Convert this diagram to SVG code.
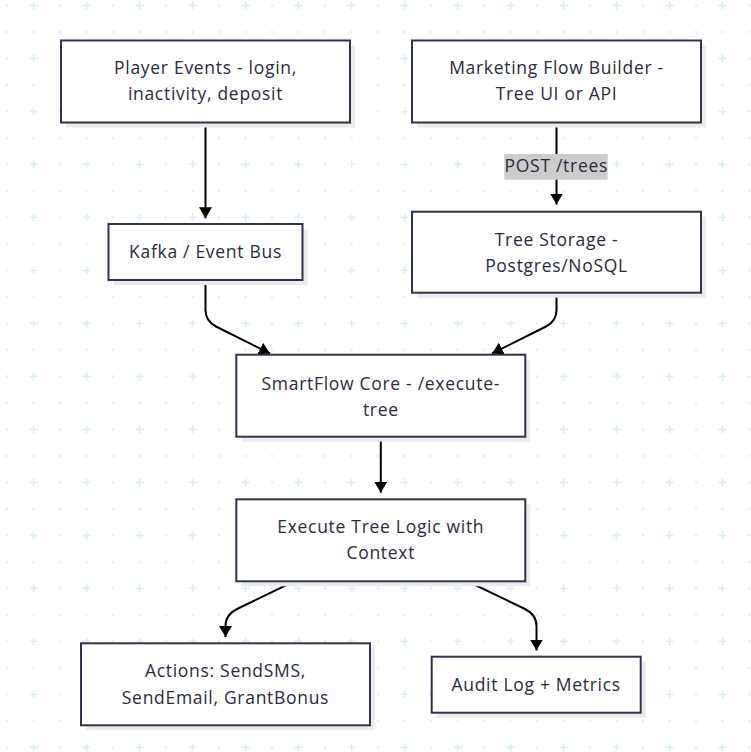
<svg xmlns="http://www.w3.org/2000/svg" width="751" height="752" viewBox="0 0 751 752">
<defs>
<pattern id="grid" patternUnits="userSpaceOnUse" x="-6.25" y="-7.75" width="53" height="53">
<circle cx="13.25" cy="13.25" r="1.2" fill="#d6eef0"/>
<circle cx="13.25" cy="39.75" r="1.2" fill="#d6eef0"/>
<circle cx="39.75" cy="39.75" r="1.2" fill="#d6eef0"/>
<path d="M35.75,13.25 H43.75 M39.75,9.25 V17.25" stroke="#d6eef0" stroke-width="1.6" fill="none"/>
</pattern>
<marker id="arr" markerUnits="userSpaceOnUse" viewBox="0 0 11 13" refX="11" refY="6.5" markerWidth="11" markerHeight="13" orient="auto">
<path d="M0,0 L11,6.5 L0,13 z" fill="#000"/>
</marker>
</defs>
<style>
.box{fill:#fff;stroke:#32324a;stroke-width:2}
.sh{fill:#ebebeb}
.t{font-family:"Open Sans","Noto Sans","Liberation Sans",sans-serif;font-size:17.5px;letter-spacing:0.7px;fill:#2b2b40;text-anchor:middle}
.e{fill:none;stroke:#000;stroke-width:2;marker-end:url(#arr)}
</style>
<rect width="751" height="752" fill="#fff"/>
<rect width="751" height="752" fill="url(#grid)"/>

<g id="edges">
<path class="e" d="M205.5,123.5 L205.5,218.3"/>
<path class="e" d="M556.5,123.5 L556.5,204.5"/>
<path class="e" d="M205.5,281 L205.5,310 Q205.5,321 216,326.5 L270,353.5"/>
<path class="e" d="M556.5,293.5 L556.5,310 Q556.5,321 546,326.5 L492,353.5"/>
<path class="e" d="M380.8,437.5 L380.8,492.8"/>
<path class="e" d="M291.7,582.5 L238,608.5 Q225.5,614.5 225.5,626 L225.5,637"/>
<path class="e" d="M470,582.5 L524,608.5 Q536.5,614.5 536.5,626 L536.5,650.5"/>
<g id="edge-label">
<rect x="504.3" y="154" width="103.4" height="25.7" fill="#cccccc"/>
<text class="t" x="556.3" y="171.8">POST /trees</text>
</g>
</g>

<g id="player-events">
<rect class="sh" x="66" y="45.5" width="289" height="82"/>
<rect class="box" x="61" y="40.5" width="289" height="82"/>
<text class="t" x="205.5" y="74">Player Events - login,</text>
<text class="t" x="205.5" y="100">inactivity, deposit</text>
</g>

<g id="marketing">
<rect class="sh" x="417" y="45.5" width="289" height="82"/>
<rect class="box" x="412" y="40.5" width="289" height="82"/>
<text class="t" x="556.5" y="74">Marketing Flow Builder -</text>
<text class="t" x="556.5" y="100">Tree UI or API</text>
</g>

<g id="kafka">
<rect class="sh" x="113.5" y="229" width="194" height="56"/>
<rect class="box" x="108.5" y="224" width="194" height="56"/>
<text class="t" x="205.5" y="258">Kafka / Event Bus</text>
</g>

<g id="tree-storage">
<rect class="sh" x="417" y="216.7" width="289" height="81"/>
<rect class="box" x="412" y="211.7" width="289" height="81"/>
<text class="t" x="556.5" y="245.5">Tree Storage -</text>
<text class="t" x="556.5" y="271.5">Postgres/NoSQL</text>
</g>

<g id="smartflow">
<rect class="sh" x="241.3" y="359.7" width="289" height="82"/>
<rect class="box" x="236.3" y="354.7" width="289" height="82"/>
<text class="t" x="380.8" y="389.5">SmartFlow Core - /execute-</text>
<text class="t" x="380.8" y="415.5">tree</text>
</g>

<g id="execute">
<rect class="sh" x="241.3" y="504.3" width="289" height="82"/>
<rect class="box" x="236.3" y="499.3" width="289" height="82"/>
<text class="t" x="380.8" y="533">Execute Tree Logic with</text>
<text class="t" x="380.8" y="559">Context</text>
</g>

<g id="actions">
<rect class="sh" x="86" y="648.3" width="289" height="82"/>
<rect class="box" x="81" y="643.3" width="289" height="82"/>
<text class="t" x="225.5" y="677">Actions: SendSMS,</text>
<text class="t" x="225.5" y="704">SendEmail, GrantBonus</text>
</g>

<g id="audit">
<rect class="sh" x="436.7" y="661.7" width="209" height="56"/>
<rect class="box" x="431.7" y="656.7" width="209" height="56"/>
<text class="t" x="536.2" y="690.8">Audit Log + Metrics</text>
</g>
</svg>
